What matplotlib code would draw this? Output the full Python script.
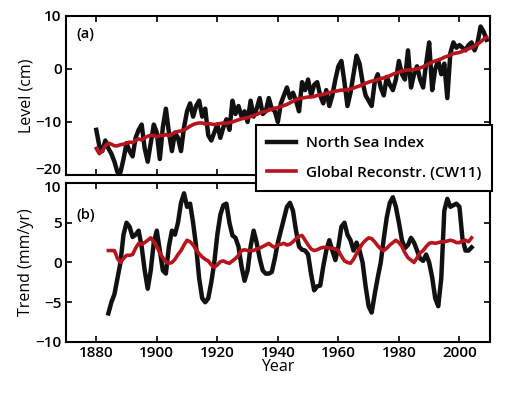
import numpy as np
import matplotlib
matplotlib.use('Agg')
import matplotlib.pyplot as plt
import matplotlib.transforms as mtransforms

plt.rcParams['font.family'] = ['Open Sans', 'DejaVu Sans']
plt.rcParams['font.weight'] = 'semibold'

# ---- data ----
level_start = 1880
level_nsi = [-11.5, -14.5, -15.5, -13.5, -15, -16, -17.5, -19.5, -19.5, -17,
             -14, -15.5, -16.5, -13, -11.5, -10.5, -15, -17.5, -14, -10.5,
             -12, -17, -11, -7.5, -12, -15.5, -12, -13, -15.5, -11,
             -8, -6.5, -9, -7, -6, -9, -7.5, -12.5, -13.5, -12,
             -10.5, -13, -11, -9.5, -11.5, -6, -8.5, -7, -9, -8,
             -10, -6, -9, -7.5, -5.5, -8.5, -8, -5.5, -7.5, -8,
             -10, -6.5, -5, -3.5, -5.5, -4.5, -6, -8, -2.5, -4,
             -2, -5, -3, -2.5, -5, -6.5, -4, -7, -5, -2,
             0.5, 1.5, -2.5, -7, -4.5, -1, 2.5, 1, -2.5, -5,
             -6, -7, -2.5, -1, -3.5, -5, -1.5, -3, -4, -2,
             1.5, -1, -2, 3.5, -3.5, -1, 0.5, -2, -3.5, 1,
             5, -4, 0, 1.5, -1, 1, -5.5, 3, 5, 4,
             4.5, 4, 3.5, 4.5, 5, 3.5, 5, 8, 7, 5.5]
level_cw11 = [-15, -16, -15.5, -14.5, -14, -14.2, -14.5, -14.5, -14.3, -14.2,
              -14, -13.8, -13.9, -13.5, -13.2, -13.4, -13, -12.7, -12.5, -12.6,
              -12.8, -12.5, -12.6, -12.4, -12.6, -12.3, -12, -11.8, -11.7, -11.5,
              -11.2, -10.8, -10.5, -10.3, -10.2, -10.2, -10.4, -10.3, -10.4, -10.5,
              -10.4, -10.3, -10.2, -10.3, -10.1, -10, -9.8, -9.6, -9.4, -9.3,
              -9.2, -9, -8.8, -8.6, -8.3, -8.1, -8, -7.8, -7.6, -7.4,
              -7.3, -7.1, -6.9, -6.7, -6.4, -6.1, -5.8, -5.6, -5.5, -5.4,
              -5.3, -5.3, -5.2, -5, -4.9, -4.8, -4.6, -4.5, -4.3, -4.2,
              -4.1, -4, -4, -3.9, -3.8, -3.6, -3.4, -3.2, -3, -2.7,
              -2.5, -2.3, -2.2, -2, -1.8, -1.7, -1.5, -1.3, -1, -0.8,
              -0.6, -0.4, -0.3, -0.2, -0.2, -0.1, 0, 0.2, 0.4, 0.7,
              1, 1.3, 1.5, 1.7, 1.9, 2.2, 2.4, 2.6, 2.9, 3,
              3.1, 3.3, 3.6, 3.8, 4, 4.3, 4.7, 5.1, 5.6, 6]

trend_start = 1884
trend_nsi = [-6.4, -5, -4, -2, 0, 3.5, 5, 4.5, 3.2, 3.5,
             4, 2, -1, -3.3, -1, 2.5, 4, 1.5, -1, -1.4,
             2, 4, 3.5, 5, 7.5, 8.7, 7, 7.4, 5, 2,
             -2, -4.5, -5, -4.5, -2.5, 0, 3.5, 6, 7.2, 7.4,
             5, 3.4, 3.1, 2, -0.5, -2.3, -1, 2, 4, 2.5,
             0.5, -1, -1.4, -1.4, -1.2, 0.5, 2.5, 4, 5.5, 7,
             7.5, 6.5, 4, 2, 1.6, 1.5, 1, -1.5, -3.5, -3,
             -2.9, -0.5, 1.5, 2.8, 1.5, 0.3, 2, 4.5, 5, 3.5,
             2.8, 1.5, 2.5, 1.5, 0, -3, -5.5, -6.3, -4, -1.9,
             0, 3, 5.7, 7.5, 8.2, 7, 5, 2.8, 1.8, 2.2,
             3.1, 2.5, 1.5, 0.5, 0.2, 1, 0, -1.9, -4.5, -5.5,
             -2, 6.5, 8, 7, 7.2, 7.4, 7, 3, 1.5, 1.5,
             1.9]
trend_cw11 = [1.5, 1.5, 1.5, 0.5, 0, 0.5, 0.9, 0.9, 1, 1.8,
              2.4, 2.3, 2.5, 2.8, 3.1, 2.6, 2, 1.2, 0.6, 0.1,
              -0.1, 0, 0.4, 1, 1.5, 2.2, 2.8, 2.6, 2.2, 1.6,
              1.1, 0.7, 0.4, 0.2, -0.3, -0.6, -0.3, 0.1, 0.2, 0,
              -0.1, 0.2, 0.5, 0.9, 1.5, 1.6, 1.5, 1.5, 1.5, 1.7,
              1.8, 2, 2.2, 2.4, 2.1, 1.9, 2.2, 2.3, 2.4, 2.2,
              2.3, 2.6, 3, 3.3, 3.4, 2.8, 2.2, 1.7, 1.5, 1.6,
              1.8, 1.9, 1.9, 1.8, 1.8, 1.7, 1.5, 0.8, 0.2, 0,
              -0.1, 0.4, 1.1, 1.8, 2.4, 2.8, 3.1, 3, 2.6, 2.1,
              1.7, 1.5, 1.8, 2.2, 2.5, 2.8, 2.5, 2, 1.2, 0.6,
              0.3, 0, 0.6, 1.2, 1.5, 2, 2.4, 2.5, 2.4, 2.5,
              2.6, 2.6, 2.7, 2.8, 2.7, 2.5, 2.5, 2.7, 2.8, 2.6,
              3.1]

level_years = np.arange(level_start, level_start + len(level_nsi))
level_years_cw = np.arange(level_start, level_start + len(level_cw11))
trend_years = np.arange(trend_start, trend_start + len(trend_nsi))
trend_years_cw = np.arange(trend_start, trend_start + len(trend_cw11))

black = '#111111'
red = '#b8141b'

fig = plt.figure(figsize=(5.05, 3.94), dpi=100)
ax1 = fig.add_axes([0.1307, 0.556, 0.839, 0.4036])
ax2 = fig.add_axes([0.1307, 0.132, 0.839, 0.4036])

l1, = ax1.plot(level_years, level_nsi, color=black, lw=3.2, solid_joinstyle='round')
l2, = ax1.plot(level_years_cw, level_cw11, color=red, lw=2.6)
ax2.plot(trend_years, trend_nsi, color=black, lw=3.2, solid_joinstyle='round')
ax2.plot(trend_years_cw, trend_cw11, color=red, lw=2.6)

for ax in (ax1, ax2):
    ax.set_xlim(1870, 2010)
    ax.set_xticks(np.arange(1880, 2001, 20))
    ax.tick_params(direction='in', top=True, right=True, length=4, width=1.2,
                   labelsize=11, pad=3)
    for s in ax.spines.values():
        s.set_linewidth(1.5)

ax1.set_ylim(-20, 10)
ax1.set_yticks([-20, -10, 0, 10])
ax1.set_xticklabels([])
ax1.set_ylabel('Level (cm)', fontsize=11.5, labelpad=1)
ax1.text(0.025, 0.93, '(a)', transform=ax1.transAxes, fontsize=10.5, va='top')

ax2.set_ylim(-10, 10)
ax2.set_yticks([-10, -5, 0, 5, 10])
ax2.set_ylabel('Trend (mm/yr)', fontsize=11.5, labelpad=1)
ax2.set_xlabel('Year', fontsize=11.5, labelpad=-1)
ax2.text(0.025, 0.84, '(b)', transform=ax2.transAxes, fontsize=10.5, va='top')

# labels where the panels meet: -20 sits a bit higher, 10 a bit lower
fig.canvas.draw()
lab = ax1.get_yticklabels()[0]
lab.set_va('bottom')
lab.set_transform(lab.get_transform()
                  + mtransforms.ScaledTranslation(0, -2 / 100, fig.dpi_scale_trans))
lab = ax2.get_yticklabels()[-1]
lab.set_va('top')
lab.set_transform(lab.get_transform()
                  + mtransforms.ScaledTranslation(0, 2 / 100, fig.dpi_scale_trans))

leg = fig.legend([l1, l2], ['North Sea Index', 'Global Reconstr. (CW11)'],
                 loc='upper left', bbox_to_anchor=(256 / 505, 1 - 125 / 394),
                 borderaxespad=0, fontsize=11, frameon=True, fancybox=False,
                 framealpha=1, edgecolor='black', handlelength=1.9,
                 handletextpad=0.6, borderpad=0.75, labelspacing=1.0)
leg.get_frame().set_linewidth(1.5)

fig.savefig('out.png', dpi=100)
